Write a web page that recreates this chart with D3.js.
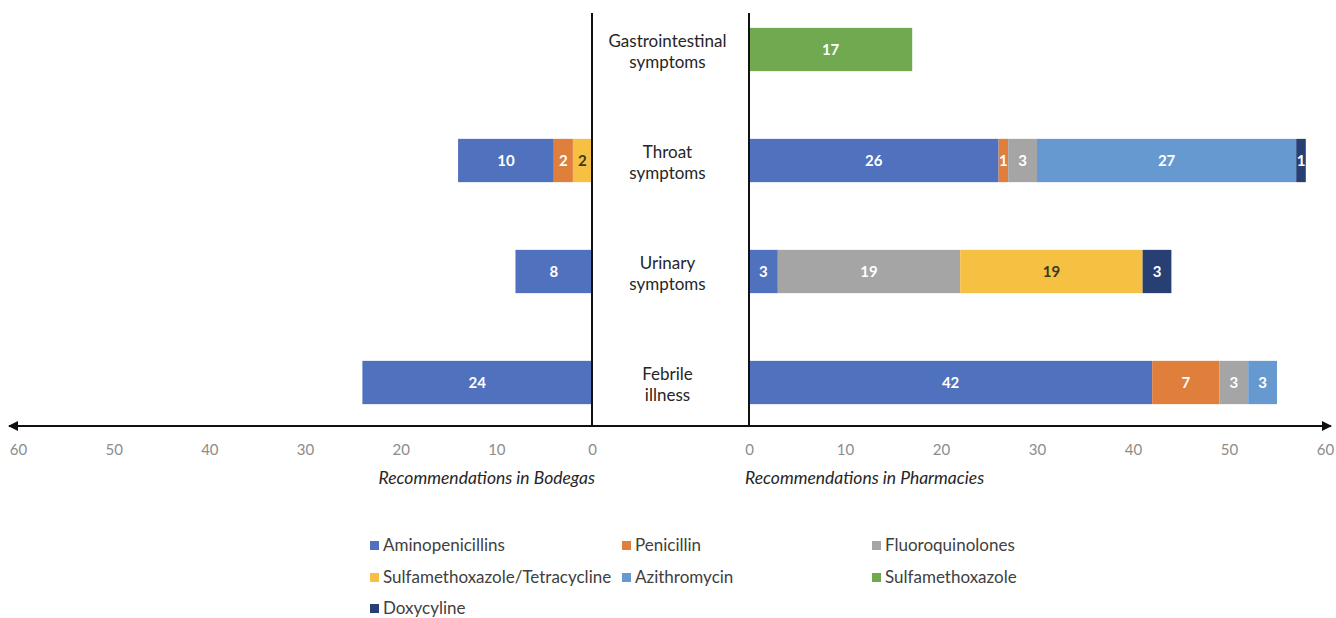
<!DOCTYPE html>
<html>
<head>
<meta charset="utf-8">
<script src="https://cdn.jsdelivr.net/npm/d3@7"></script>
<style>
  body { margin: 0; background: #fff; }
  svg { font-family: Lato, "Open Sans", sans-serif; }
</style>
</head>
<body>
<svg id="chart" width="1336" height="618"></svg>
<script>
// Data.
const categories = ['Gastrointestinal symptoms', 'Throat symptoms', 'Urinary symptoms', 'Febrile illness'];
const categoryLines = [['Gastrointestinal', 'symptoms'], ['Throat', 'symptoms'], ['Urinary', 'symptoms'], ['Febrile', 'illness']];
const drugs = ['Aminopenicillins', 'Penicillin', 'Fluoroquinolones', 'Sulfamethoxazole/Tetracycline',
  'Azithromycin', 'Sulfamethoxazole', 'Doxycyline'];
const drugColors = ['#4f71be', '#e07e3c', '#a5a5a5', '#f6c142', '#6799d1', '#71a951', '#283f73'];
const darkLabel = {'Sulfamethoxazole/Tetracycline': true};

// Per drug, one value per category (Gastro, Throat, Urinary, Febrile).
const bodegas = {
  'Aminopenicillins': [0, 10, 8, 24],
  'Penicillin': [0, 2, 0, 0],
  'Fluoroquinolones': [0, 0, 0, 0],
  'Sulfamethoxazole/Tetracycline': [0, 2, 0, 0],
  'Azithromycin': [0, 0, 0, 0],
  'Sulfamethoxazole': [0, 0, 0, 0],
  'Doxycyline': [0, 0, 0, 0],
};
const pharmacies = {
  'Aminopenicillins': [0, 26, 3, 42],
  'Penicillin': [0, 1, 0, 7],
  'Fluoroquinolones': [0, 3, 19, 3],
  'Sulfamethoxazole/Tetracycline': [0, 0, 19, 0],
  'Azithromycin': [0, 27, 0, 3],
  'Sulfamethoxazole': [17, 0, 0, 0],
  'Doxycyline': [0, 1, 3, 0],
};
const tickValues = [0, 10, 20, 30, 40, 50, 60];

const svg = d3.select('#chart');
const axisY = 426;

const color = d3.scaleOrdinal().domain(drugs).range(drugColors);
const y = d3.scaleBand().domain(categories).range([-6, 438])
    .paddingInner(0.61).paddingOuter(0.305);
const xLeft = d3.scaleLinear().domain([0, 60]).range([592, 18]);
const xRight = d3.scaleLinear().domain([0, 60]).range([749, 1325]);

function toRows(table) {
  return categories.map((c, i) => {
    const row = {category: c};
    drugs.forEach(d => { row[d] = table[d][i]; });
    return row;
  });
}

// keys: stacking order outward from zero
function drawPanel(table, x, keys) {
  const series = d3.stack().keys(keys)(toRows(table));
  const g = svg.append('g');
  series.forEach(s => {
    const segs = s.filter(d => d[1] - d[0] > 0);
    g.selectAll(null).data(segs).join('rect')
        .attr('x', d => Math.min(x(d[0]), x(d[1])))
        .attr('width', d => Math.abs(x(d[1]) - x(d[0])))
        .attr('y', d => y(d.data.category))
        .attr('height', y.bandwidth())
        .attr('fill', color(s.key));
    g.selectAll(null).data(segs).join('text')
        .attr('x', d => (x(d[0]) + x(d[1])) / 2)
        .attr('y', d => y(d.data.category) + y.bandwidth() / 2)
        .attr('dy', '0.35em')
        .attr('text-anchor', 'middle')
        .attr('font-size', 15)
        .attr('font-weight', 'bold')
        .attr('fill', darkLabel[s.key] ? '#3a3a20' : '#fff')
        .text(d => d[1] - d[0]);
  });

  // Tick labels.
  const axis = svg.append('g')
      .attr('transform', `translate(0, ${axisY + 15})`)
      .call(d3.axisBottom(x).tickValues(tickValues).tickSize(0).tickFormat(d3.format('d')));
  axis.select('.domain').remove();
  axis.selectAll('text')
      .attr('font-family', 'Lato, sans-serif')
      .attr('font-size', 15)
      .attr('fill', '#8c8c8c');
}

drawPanel(bodegas, xLeft, drugs.slice().reverse());
drawPanel(pharmacies, xRight, drugs);

// Vertical base lines.
[xLeft(0), xRight(0)].forEach(px => {
  svg.append('line')
      .attr('x1', px).attr('x2', px)
      .attr('y1', 13).attr('y2', axisY)
      .attr('stroke', '#111').attr('stroke-width', 2);
});

// Horizontal double-headed axis arrow.
const defs = svg.append('defs');
defs.append('marker')
    .attr('id', 'arrow')
    .attr('viewBox', '0 0 10 10')
    .attr('refX', 9).attr('refY', 5)
    .attr('markerWidth', 5).attr('markerHeight', 5)
    .attr('orient', 'auto-start-reverse')
    .append('path')
    .attr('d', 'M0,0 L10,5 L0,10 Z')
    .attr('fill', '#111');
svg.append('line')
    .attr('x1', 9).attr('x2', 1331)
    .attr('y1', axisY).attr('y2', axisY)
    .attr('stroke', '#111').attr('stroke-width', 2)
    .attr('marker-start', 'url(#arrow)')
    .attr('marker-end', 'url(#arrow)');

// Category labels between the panels.
const catX = (xLeft(0) + xRight(0)) / 2 - 3;
categoryLines.forEach((lines, i) => {
  const cy = y(categories[i]) + y.bandwidth() / 2;
  const t = svg.append('text')
      .attr('x', catX)
      .attr('y', cy - 8)
      .attr('text-anchor', 'middle')
      .attr('font-size', 17)
      .attr('fill', '#262626');
  lines.forEach((l, j) => {
    t.append('tspan').attr('x', catX).attr('dy', j === 0 ? '0.35em' : 20.5).text(l);
  });
});

// Axis titles.
svg.append('text')
    .attr('x', 595).attr('y', 484)
    .attr('text-anchor', 'end')
    .attr('font-size', 17.5)
    .attr('font-style', 'italic')
    .attr('fill', '#262626')
    .text('Recommendations in Bodegas');
svg.append('text')
    .attr('x', 745).attr('y', 484)
    .attr('font-size', 17.5)
    .attr('font-style', 'italic')
    .attr('fill', '#262626')
    .text('Recommendations in Pharmacies');

// Legend.
const legendCols = [370, 622, 872];
const legendRows = [545, 577, 608];
const legend = svg.append('g');
drugs.forEach((d, i) => {
  const lx = legendCols[i % 3];
  const ly = legendRows[Math.floor(i / 3)];
  legend.append('rect')
      .attr('x', lx).attr('y', ly - 4)
      .attr('width', 9).attr('height', 9)
      .attr('fill', color(d));
  legend.append('text')
      .attr('x', lx + 13).attr('y', ly)
      .attr('dy', '0.35em')
      .attr('font-size', 17)
      .attr('fill', '#404040')
      .text(d);
});
</script>
</body>
</html>
